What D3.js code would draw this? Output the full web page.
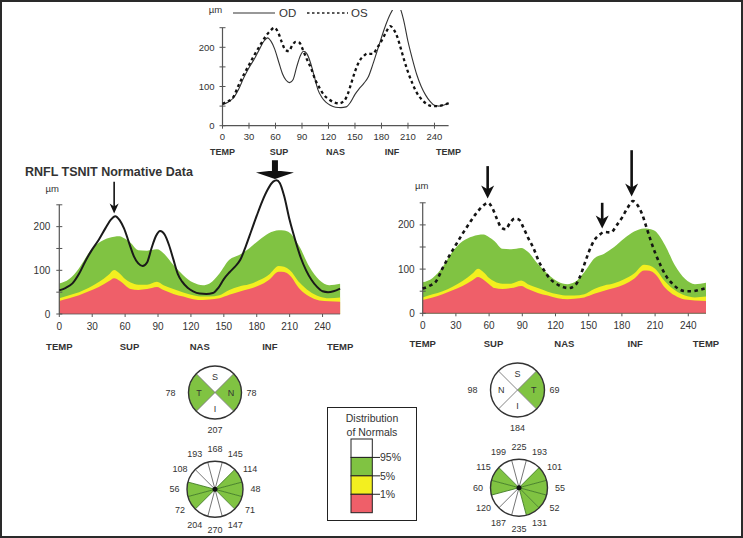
<!DOCTYPE html>
<html>
<head>
<meta charset="utf-8">
<script src="https://cdn.jsdelivr.net/npm/d3@7"></script>
<style>
  body { margin: 0; background: #fff; }
  svg text { font-family: "Liberation Sans", Arial, sans-serif; fill: #333; }
</style>
</head>
<body>
<svg id="chart" width="743" height="538"></svg>
<script>
// TSNIT profile, right eye (OD), degrees / microns
const odDeg = [0, 6, 12, 18, 24, 30, 36, 42, 47, 51, 55, 59, 64, 68, 72, 76, 80, 84, 88, 92, 96, 100, 104, 108, 112, 117, 122, 128, 134, 140, 145, 150, 155, 160, 165, 170, 175, 180, 185, 190, 195, 198, 201, 205, 210, 215, 220, 225, 230, 235, 240, 245, 250, 256];
const odVal = [54, 60, 70, 92, 122, 148, 170, 196, 216, 224, 215, 196, 160, 132, 116, 110, 118, 150, 178, 190, 182, 158, 125, 92, 74, 60, 52, 47, 46, 48, 60, 80, 95, 108, 124, 155, 190, 225, 258, 285, 303, 306, 300, 270, 215, 170, 130, 100, 78, 62, 52, 50, 52, 58];

// TSNIT profile, left eye (OS)
const osDeg = [0, 6, 12, 18, 24, 30, 36, 42, 48, 54, 59, 63, 67, 71, 75, 79, 83, 87, 91, 95, 100, 105, 110, 115, 120, 126, 132, 138, 142, 146, 150, 155, 160, 164, 170, 175, 180, 185, 190, 194, 198, 202, 206, 210, 215, 220, 226, 232, 238, 244, 250, 256];
const osVal = [56, 62, 72, 102, 130, 155, 180, 203, 225, 242, 250, 238, 214, 194, 190, 205, 214, 212, 194, 172, 148, 117, 96, 78, 68, 60, 57, 64, 82, 110, 138, 165, 178, 184, 183, 198, 216, 238, 254, 245, 226, 196, 165, 137, 108, 84, 66, 54, 50, 50, 53, 57];

// normative bands (upper limits of 1%, 5%, 95%)
const normDeg = [0, 9, 18, 27, 36, 45, 50, 55, 60, 65, 72, 80, 89, 95, 104, 113, 122, 131, 137, 146, 155, 164, 173, 182, 191, 200, 205, 210, 219, 228, 237, 246, 256];
const norm95 = [70, 80, 105, 140, 163, 174, 177, 178, 172, 163, 146, 145, 148, 139, 112, 89, 72, 66, 70, 93, 124, 135, 150, 169, 185, 192, 191, 186, 154, 108, 78, 66, 69];
const norm5 = [36, 43, 50, 60, 73, 90, 101, 93, 80, 72, 67, 67, 74, 66, 57, 49, 43, 40, 40, 43, 55, 63, 68, 77, 90, 110, 108, 101, 72, 52, 40, 36, 38];
const norm1 = [30, 36, 43, 52, 62, 75, 82, 76, 66, 57, 55, 57, 62, 55, 46, 40, 34, 32, 33, 36, 44, 51, 57, 65, 78, 97, 96, 89, 58, 40, 31, 29, 28];

const xTicks = [0, 30, 60, 90, 120, 150, 180, 210, 240];
const yTicks = [0, 50, 100, 150, 200, 250];
const yTickLabels = [0, 100, 200];
const regionDeg = [0, 64, 128, 192, 256];
const regionNames = ["TEMP", "SUP", "NAS", "INF", "TEMP"];

// arrows: degree, tip value, tail value
const odArrows = [{ deg: 50, tip: 230, tail: 303, thick: false }, { deg: 196.6, tip: 309, tail: 352, thick: true }];
const osArrows = [{ deg: 58.7, tip: 260, tail: 333 }, { deg: 188.8, tip: 264, tail: 369 }, { deg: 162.2, tip: 192, tail: 250 }];

// quadrant and clock-hour summaries
const quadNamesOD = ["S", "N", "I", "T"];
const quadValuesOD = [null, 78, 207, 78];
const quadGreenOD = [false, true, false, true];
const quadNamesOS = ["S", "T", "I", "N"];
const quadValuesOS = [null, 69, 184, 98];
const quadGreenOS = [false, true, false, false];
const clockOD = [168, 145, 114, 48, 71, 147, 270, 204, 72, 56, 108, 193];
const clockGreenOD = [2, 3, 4, 8, 9];
const clockOS = [225, 193, 101, 55, 52, 131, 235, 187, 120, 60, 115, 199];
const clockGreenOS = [2, 3, 4, 5, 9, 10];

const legendLabels = ["95%", "5%", "1%"];

const GREEN = "#80c342", YELLOW = "#f3ef1f", RED = "#ef5f69";

const svg = d3.select("#chart");
svg.append("rect").attr("x", 1).attr("y", 1).attr("width", 741).attr("height", 536)
  .attr("fill", "#fff").attr("stroke", "#2a2a2a").attr("stroke-width", 2);

const zip = (a, b) => a.map((v, i) => [v, b[i]]);

function drawProfile(cfg) {
  const g = svg.append("g");
  const x = d3.scaleLinear().domain([0, 256]).range([cfg.x0, cfg.x1]);
  const y = d3.scaleLinear().domain([0, 250]).range([cfg.yb, cfg.yt]);

  if (cfg.bands) {
    [[norm95, GREEN], [norm5, YELLOW], [norm1, RED]].forEach(([vals, col]) => {
      g.append("path")
        .attr("d", d3.area().x(d => x(d[0])).y0(y(0)).y1(d => y(d[1]))
          .curve(d3.curveMonotoneX)(zip(normDeg, vals)))
        .attr("fill", col);
    });
  }

  // axes
  g.append("line").attr("x1", x(0)).attr("x2", x(256)).attr("y1", y(0)).attr("y2", y(0))
    .attr("stroke", "#555").attr("stroke-width", cfg.bands ? 0.8 : 1.2);
  g.append("line").attr("x1", x(0)).attr("x2", x(0)).attr("y1", y(0)).attr("y2", y(250))
    .attr("stroke", "#555").attr("stroke-width", 1.2);
  g.selectAll(null).data(yTicks).join("line")
    .attr("x1", x(0) - 3).attr("x2", x(0) + 3).attr("y1", d => y(d)).attr("y2", d => y(d))
    .attr("stroke", "#555").attr("stroke-width", 1);
  g.selectAll(null).data(xTicks).join("line")
    .attr("x1", d => x(d)).attr("x2", d => x(d))
    .attr("y1", y(0) - (cfg.bands ? 0 : 3)).attr("y2", y(0) + 3)
    .attr("stroke", "#555").attr("stroke-width", 1);

  g.selectAll(null).data(yTickLabels).join("text")
    .attr("x", x(0) - cfg.yLabGap).attr("y", d => y(d)).attr("dy", "0.35em")
    .attr("text-anchor", "end").attr("font-size", cfg.tickFont).text(d => d);
  g.selectAll(null).data(xTicks).join("text")
    .attr("x", d => x(d)).attr("y", y(0) + cfg.tickDy).attr("dy", "0.35em")
    .attr("text-anchor", "middle").attr("font-size", cfg.tickFont).text(d => d);
  g.selectAll(null).data(regionDeg).join("text")
    .attr("x", d => x(d)).attr("y", y(0) + cfg.regionDy).attr("dy", "0.35em")
    .attr("text-anchor", "middle").attr("font-size", cfg.regionFont)
    .attr("font-weight", "bold").attr("fill", "#3a3a3a")
    .text((d, i) => regionNames[i]);
  g.append("text").attr("x", x(0) + cfg.umDx).attr("y", y(250) + cfg.umDy)
    .attr("text-anchor", "middle").attr("font-size", 9.5).text("µm");

  // curves
  const line = d3.line().x(d => x(d[0])).y(d => y(d[1])).curve(d3.curveMonotoneX);
  const lg = g.append("g");
  if (cfg.clipTop != null) {
    const id = "clip" + Math.round(cfg.x0);
    svg.append("clipPath").attr("id", id).append("rect")
      .attr("x", cfg.x0 - 10).attr("y", cfg.clipTop).attr("width", cfg.x1 - cfg.x0 + 20).attr("height", 200);
    lg.attr("clip-path", `url(#${id})`);
  }
  (cfg.lines || []).forEach(l => {
    lg.append("path").attr("d", line(zip(l.deg, l.val)))
      .attr("fill", "none").attr("stroke", l.color).attr("stroke-width", l.width)
      .attr("stroke-dasharray", l.dash || null).attr("stroke-linejoin", "round");
  });

  // arrows
  (cfg.arrows || []).forEach(a => {
    const ax = x(a.deg), tip = y(a.tip), tail = y(a.tail);
    if (a.thick) {
      g.append("rect").attr("x", ax - 3).attr("y", tail).attr("width", 6).attr("height", tip - tail - 6)
        .attr("fill", "#111");
      g.append("path")
        .attr("d", `M${ax - 19},${tip - 6.5}L${ax - 6},${tip - 8}L${ax + 6},${tip - 8}L${ax + 19},${tip - 6.5}L${ax},${tip}Z`)
        .attr("fill", "#111");
    } else {
      const hw = a.hw || 6.5, hh = a.hh || 13;
      g.append("line").attr("x1", ax).attr("x2", ax).attr("y1", tail).attr("y2", tip - hh * 0.5)
        .attr("stroke", "#111").attr("stroke-width", a.sw || 2.6);
      g.append("path").attr("d", `M${ax - hw},${tip - hh}L${ax},${tip - hh * 0.7}L${ax + hw},${tip - hh}L${ax},${tip}Z`)
        .attr("fill", "#111");
    }
  });
  return g;
}

// top comparison chart
drawProfile({
  x0: 222.5, x1: 448.6, yb: 125.7, yt: 27.7, bands: false,
  tickFont: 9.5, tickDy: 11, regionFont: 9, regionDy: 26, yLabGap: 8,
  umDx: -7, umDy: -15, clipTop: 10,
  lines: [
    { deg: odDeg, val: odVal, color: "#333", width: 1.1 },
    { deg: osDeg, val: osVal, color: "#111", width: 2.3, dash: "3,3" }
  ]
});
// top legend
svg.append("line").attr("x1", 233).attr("x2", 275).attr("y1", 13).attr("y2", 13).attr("stroke", "#333").attr("stroke-width", 1.2);
svg.append("text").attr("x", 279).attr("y", 17).attr("font-size", 11.5).text("OD");
svg.append("line").attr("x1", 307).attr("x2", 348).attr("y1", 13).attr("y2", 13).attr("stroke", "#222").attr("stroke-width", 1.6).attr("stroke-dasharray", "2.5,2.5");
svg.append("text").attr("x", 351).attr("y", 17).attr("font-size", 11.5).text("OS");

// lower left: OD against normative data
svg.append("text").attr("x", 25).attr("y", 176).attr("font-size", 12.5).attr("font-weight", "bold")
  .attr("fill", "#222").text("RNFL TSNIT Normative Data");
drawProfile({
  x0: 59.3, x1: 340.1, yb: 314, yt: 204.8, bands: true,
  tickFont: 10, tickDy: 12, regionFont: 9.5, regionDy: 33, yLabGap: 9,
  umDx: -7, umDy: -13,
  lines: [{ deg: odDeg, val: odVal, color: "#1a1a1a", width: 2 }],
  arrows: odArrows.map(a => Object.assign({ hw: 4.5, hh: 10, sw: 1.6 }, a))
});

// lower right: OS against normative data
drawProfile({
  x0: 422.7, x1: 706, yb: 313.3, yt: 202.8, bands: true,
  tickFont: 10, tickDy: 12, regionFont: 9.5, regionDy: 30, yLabGap: 8,
  umDx: -1, umDy: -13.5,
  lines: [{ deg: osDeg, val: osVal, color: "#151515", width: 2.6, dash: "3.5,3.5" }],
  arrows: osArrows
});

// quadrant circles
function drawQuad(cx, cy, r, names, values, green) {
  const g = svg.append("g").attr("transform", `translate(${cx},${cy})`);
  const arc = d3.arc().innerRadius(0).outerRadius(r);
  const rad = Math.PI / 180;
  names.forEach((n, i) => {
    g.append("path").attr("d", arc({ startAngle: (i * 90 - 45) * rad, endAngle: (i * 90 + 45) * rad }))
      .attr("fill", green[i] ? GREEN : "#fff");
  });
  [45, 135].forEach(a => {
    g.append("line")
      .attr("x1", r * Math.sin(a * rad)).attr("y1", -r * Math.cos(a * rad))
      .attr("x2", -r * Math.sin(a * rad)).attr("y2", r * Math.cos(a * rad))
      .attr("stroke", "#777").attr("stroke-width", 0.9);
  });
  g.append("circle").attr("r", r).attr("fill", "none").attr("stroke", "#333").attr("stroke-width", 1.4);
  names.forEach((n, i) => {
    const a = i * 90 * rad;
    g.append("text").attr("x", r * 0.6 * Math.sin(a)).attr("y", -r * 0.6 * Math.cos(a)).attr("dy", "0.35em")
      .attr("text-anchor", "middle").attr("font-size", 9)
      .attr("fill", green[i] ? "#2d5a18" : "#555").text(n);
  });
  values.forEach((v, i) => {
    if (v == null) return;
    const pos = [[0, -r - 10, "middle"], [r + 5, 0, "start"], [0, r + 11, "middle"], [-r - 13, 0, "end"]][i];
    g.append("text").attr("x", pos[0]).attr("y", pos[1]).attr("dy", "0.35em")
      .attr("text-anchor", pos[2]).attr("font-size", 9).text(v);
  });
}
drawQuad(215, 392.5, 26.5, quadNamesOD, quadValuesOD, quadGreenOD);
drawQuad(517.5, 390, 27, quadNamesOS, quadValuesOS, quadGreenOS);

// clock-hour circles
function drawClock(cx, cy, r, values, green) {
  const g = svg.append("g").attr("transform", `translate(${cx},${cy})`);
  const arc = d3.arc().innerRadius(0).outerRadius(r);
  const rad = Math.PI / 180;
  values.forEach((v, i) => {
    const h = i === 0 ? 12 : i;
    const isG = green.includes(h);
    g.append("path").attr("d", arc({ startAngle: (i * 30 - 15) * rad, endAngle: (i * 30 + 15) * rad }))
      .attr("fill", isG ? GREEN : "#fff");
  });
  values.forEach((v, i) => {
    const a = (i * 30 - 15) * rad;
    const h1 = i === 0 ? 12 : i, h0 = i === 0 ? 11 : (i - 1 === 0 ? 12 : i - 1);
    const edgeG = green.includes(h1) || green.includes(h0);
    g.append("line").attr("x1", 0).attr("y1", 0)
      .attr("x2", r * Math.sin(a)).attr("y2", -r * Math.cos(a))
      .attr("stroke", edgeG ? "#3f7a22" : "#666").attr("stroke-width", 0.9);
  });
  g.append("circle").attr("r", r).attr("fill", "none").attr("stroke", "#333").attr("stroke-width", 1.4);
  g.append("circle").attr("r", 2.5).attr("fill", "#111");
  values.forEach((v, i) => {
    const a = i * 30 * rad, lr = r + 12.5;
    g.append("text").attr("x", lr * Math.sin(a)).attr("y", -lr * Math.cos(a)).attr("dy", "0.35em")
      .attr("text-anchor", "middle").attr("font-size", 9).text(v);
  });
}
drawClock(215, 489.3, 28, clockOD, clockGreenOD);
drawClock(519, 487.7, 28.5, clockOS, clockGreenOS);

// distribution legend
const lg = svg.append("g");
lg.append("rect").attr("x", 327.5).attr("y", 407.5).attr("width", 89).attr("height", 113)
  .attr("fill", "#fff").attr("stroke", "#222").attr("stroke-width", 1);
lg.append("text").attr("x", 372).attr("y", 422).attr("text-anchor", "middle").attr("font-size", 10.5).text("Distribution");
lg.append("text").attr("x", 372).attr("y", 436).attr("text-anchor", "middle").attr("font-size", 10.5).text("of Normals");
const legendCols = ["#fff", GREEN, YELLOW, RED];
const segY = d3.scaleLinear().domain([0, 4]).range([439, 512.7]);
legendCols.forEach((c, i) => {
  lg.append("rect").attr("x", 351).attr("y", segY(i)).attr("width", 21.3).attr("height", segY(i + 1) - segY(i))
    .attr("fill", c).attr("stroke", "#222").attr("stroke-width", 1);
});
legendLabels.forEach((t, i) => {
  const yy = segY(i + 1);
  lg.append("line").attr("x1", 372).attr("x2", 380).attr("y1", yy).attr("y2", yy).attr("stroke", "#222").attr("stroke-width", 1);
  lg.append("text").attr("x", 380).attr("y", yy).attr("dy", "0.35em").attr("font-size", 10.5).text(t);
});
</script>
</body>
</html>
